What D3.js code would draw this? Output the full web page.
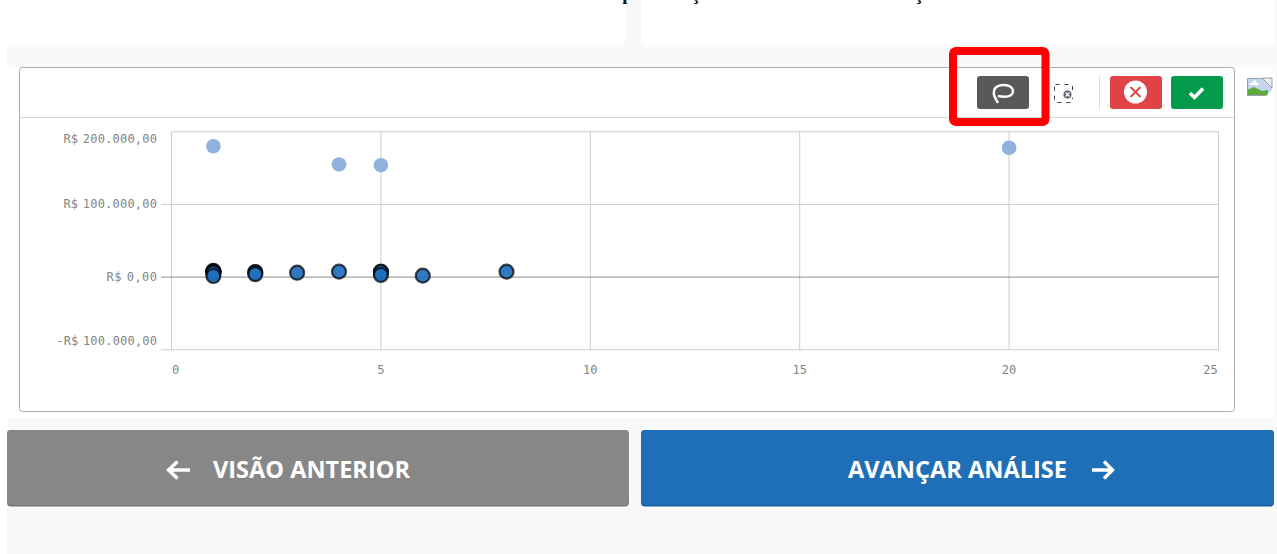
<!DOCTYPE html>
<html>
<head>
<meta charset="utf-8">
<script src="https://cdn.jsdelivr.net/npm/d3@7"></script>
<style>
html, body { margin: 0; padding: 0; background: #fff; overflow: hidden; }
svg { display: block; }
</style>
</head>
<body>
<svg id="page" width="1277" height="554"></svg>
<script>
// Values
var xTicks = [0, 5, 10, 15, 20, 25];
var yTicks = [200000, 100000, 0, -100000];
var selectedX = [1, 4, 5, 20];
var selectedY = [180000, 155000, 154000, 178000];
var outlinedX = [1, 1, 1, 1, 1, 1, 2, 2, 2, 3, 4, 5, 5, 5, 6, 8];
var outlinedY = [8500, 8000, 7500, 7000, 5500, 1500, 7000, 6500, 4000, 6000, 7500, 7500, 7000, 3000, 2000, 7500];

var svg = d3.select('#page');

// Page panels
function panel(x, y, w, h, fill, r) {
	return svg.append('rect')
			.attr('x', x).attr('y', y)
			.attr('width', w).attr('height', h)
			.attr('rx', r).attr('fill', fill);
}

panel(7, 0, 1270, 554, '#f9f9f9', 0);
panel(-10, -10, 635, 54, '#ffffff', 5);
panel(641, -10, 634, 55, '#ffffff', 5);
panel(-10, 68, 1285, 350, '#ffffff', 5);
panel(0, 0, 7, 554, '#ffffff', 0);

// Title, only its descenders show at the top of the picture
svg.append('text')
		.attr('x', 600).attr('y', 0)
		.attr('font-family', '"Liberation Serif"')
		.attr('font-weight', 'bold')
		.attr('font-size', 19)
		.attr('fill', '#111')
		.text('Representação dos indicadores em relação');

// Chart box
svg.append('rect')
		.attr('x', 19.5).attr('y', 67.5)
		.attr('width', 1215).attr('height', 344)
		.attr('rx', 3)
		.attr('fill', '#fff')
		.attr('stroke', '#adadad');
svg.append('line')
		.attr('x1', 20).attr('x2', 1234)
		.attr('y1', 117.5).attr('y2', 117.5)
		.attr('stroke', '#d9d9d9');

// Scales
var xScale = d3.scaleLinear().domain([0, 25]).range([171.5, 1218.5]);
var yScale = d3.scaleLinear().domain([-100000, 200000]).range([349.75, 131.75]);

var plot = svg.append('g');

// Grid and axis lines
plot.selectAll('.gx').data(xTicks).enter().append('line')
		.attr('x1', d => xScale(d)).attr('x2', d => xScale(d))
		.attr('y1', yScale(200000)).attr('y2', yScale(-100000))
		.attr('stroke', '#cdcdcd');
plot.selectAll('.gy').data(yTicks).enter().append('line')
		.attr('x1', d => d === 200000 ? xScale(0) : 161)
		.attr('x2', xScale(25))
		.attr('y1', d => yScale(d)).attr('y2', d => yScale(d))
		.attr('stroke', d => d === 0 ? '#8c8c8c' : '#cdcdcd');

// Tick labels
function moneyLabel(v) {
	var body = d3.format(',.2f')(Math.abs(v)).replace(/,/g, '#').replace('.', ',').replace(/#/g, '.');
	return (v < 0 ? '-' : '') + 'R$ ' + body;
}

plot.selectAll('.ly').data(yTicks).enter().append('text')
		.attr('x', 157)
		.attr('y', d => yScale(d) + (d === 200000 ? 7.5 : d === -100000 ? -9 : d === 0 ? 0 : -0.5) + 4)
		.attr('text-anchor', 'end')
		.attr('font-family', '"DejaVu Sans Mono"')
		.attr('font-size', 12)
		.attr('word-spacing', -3)
		.attr('textLength', d => moneyLabel(d).length * 7.2)
		.attr('fill', '#848484')
		.text(moneyLabel);

plot.selectAll('.lx').data(xTicks).enter().append('text')
		.attr('x', d => xScale(d) + (d === 25 ? -8 : d === 0 ? 4 : 0))
		.attr('y', 373.5)
		.attr('text-anchor', 'middle')
		.attr('font-family', '"DejaVu Sans Mono"')
		.attr('font-size', 12)
		.attr('fill', '#848484')
		.text(d => d);

// Points
plot.selectAll('.sel').data(selectedX).enter().append('circle')
		.attr('cx', d => xScale(d))
		.attr('cy', (d, i) => yScale(selectedY[i]))
		.attr('r', 7.3)
		.attr('fill', '#8db3dc');

plot.selectAll('.pt').data(outlinedX).enter().append('circle')
		.attr('cx', d => xScale(d))
		.attr('cy', (d, i) => yScale(outlinedY[i]))
		.attr('r', 7)
		.attr('fill', '#1f6fbd')
		.attr('fill-opacity', 0.92)
		.attr('stroke', '#000')
		.attr('stroke-opacity', 0.72)
		.attr('stroke-width', 2.2);

// Toolbar
panel(977, 76, 52, 33, '#595959', 3);
panel(1110, 76, 52, 33, '#e04346', 3);
panel(1171, 76, 52, 33, '#049a4c', 3);

svg.append('path')
		.attr('d', 'M998 103 C995 98 993 95 994 91 C995 86 1000 85 1004 85 C1010 85 1013 88 1013 91 C1013 96 1007 98 998 96')
		.attr('fill', 'none').attr('stroke', '#fff').attr('stroke-width', 2.4);
svg.append('rect')
		.attr('x', 1054.5).attr('y', 84.5).attr('width', 18).attr('height', 18).attr('rx', 1)
		.attr('fill', 'none').attr('stroke', '#3a3f4a').attr('stroke-dasharray', '4 5');
svg.append('circle').attr('cx', 1067.5).attr('cy', 94.5).attr('r', 6).attr('fill', '#fff');
svg.append('circle').attr('cx', 1067.5).attr('cy', 94.5).attr('r', 4).attr('fill', '#5a6470');
svg.append('path').attr('d', 'M1065.5 92.5 L1069.5 96.5 M1069.5 92.5 L1065.5 96.5')
		.attr('stroke', '#fff').attr('stroke-width', 1.2);
svg.append('line').attr('x1', 1099.5).attr('x2', 1099.5).attr('y1', 76).attr('y2', 109).attr('stroke', '#dcdcdc');
svg.append('circle').attr('cx', 1135.5).attr('cy', 92).attr('r', 11.5).attr('fill', '#fff');
svg.append('path').attr('d', 'M1130.5 87 L1140.5 97 M1140.5 87 L1130.5 97')
		.attr('stroke', '#e04346').attr('stroke-width', 1.8);
svg.append('path').attr('d', 'M1190 93 L1194.5 97.5 L1203 88.5')
		.attr('fill', 'none').attr('stroke', '#fff').attr('stroke-width', 3.6);

// Red highlight
svg.append('rect')
		.attr('x', 953).attr('y', 51)
		.attr('width', 92.5).attr('height', 71)
		.attr('rx', 3)
		.attr('fill', 'none')
		.attr('stroke', '#fe0000')
		.attr('stroke-width', 8);

// Broken image icon
panel(1247, 78, 25, 18, '#c4d6ee', 0);
svg.append('path').attr('d', 'M1247 96 L1247 90 L1254 87 L1262 91 L1268 90 L1268 96 Z').attr('fill', '#5eaa3c');
svg.append('path').attr('d', 'M1249 85 L1255 80 L1259 85 Z').attr('fill', '#fff');
svg.append('path').attr('d', 'M1262 78 L1272 78 L1272 88 Z').attr('fill', '#eceff3').attr('stroke', '#9aa0a6');
svg.append('path').attr('d', 'M1266 96 L1272 90 L1272 96 Z').attr('fill', '#fff');
svg.append('path').attr('d', 'M1247.5 96 L1247.5 78.5 L1262 78.5 M1247.5 95.5 L1266 95.5')
		.attr('fill', 'none').attr('stroke', '#9aa0a6');

// Bottom buttons
panel(7, 430, 622, 76.5, '#757575', 4);
panel(7, 430, 622, 75, '#878787', 4);
panel(641, 430, 633, 76.5, '#195e9c', 4);
panel(641, 430, 633, 75, '#1e6fb8', 4);

function buttonText(x, label) {
	svg.append('text')
			.attr('x', x).attr('y', 477.5)
			.attr('font-family', '"Open Sans"')
			.attr('font-weight', 700)
			.attr('font-size', 23.5)
			.attr('fill', '#fff')
			.attr('textLength', label === 'VISÃO ANTERIOR' ? 197 : 219)
			.attr('lengthAdjust', 'spacingAndGlyphs')
			.text(label);
}
buttonText(213, 'VISÃO ANTERIOR');
buttonText(848, 'AVANÇAR ANÁLISE');

svg.append('path').attr('d', 'M190 470 L169 470 M177.5 461.5 L168.5 470 L177.5 478.5')
		.attr('fill', 'none').attr('stroke', '#fff').attr('stroke-width', 3.4);
svg.append('path').attr('d', 'M1092 470 L1112 470 M1104 461.5 L1112.5 470 L1104 478.5')
		.attr('fill', 'none').attr('stroke', '#fff').attr('stroke-width', 3.4);
</script>
</body>
</html>
